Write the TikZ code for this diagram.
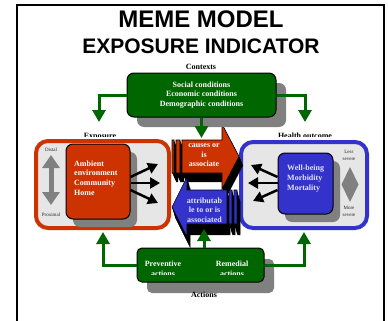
\documentclass[tikz,border=0pt]{standalone}
\usepackage{fontspec}
\setmainfont{Liberation Serif}
\newfontfamily\titlefont{Liberation Sans}
\usetikzlibrary{arrows.meta,shadows}

\definecolor{memered}{HTML}{CC3300}
\definecolor{memeblue}{HTML}{3333CC}
\definecolor{memegreen}{HTML}{006600}
\definecolor{shadowgray}{HTML}{808080}
\definecolor{panelgray}{HTML}{E6E6E6}
\definecolor{paleblue}{HTML}{E4E4FF}

\tikzset{
  lbl/.style={font=\fontsize{8}{9.7}\selectfont\bfseries, inner sep=0pt},
  tinylbl/.style={font=\fontsize{5}{7}\selectfont, inner sep=0pt, text=black!85},
  panel/.style={rounded corners=12pt, fill=panelgray, line width=4pt},
  card/.style={rounded corners=7pt, draw=black, line width=1pt, inner sep=0pt},
  cardtxt/.style={lbl, text=white, align=left, anchor=north west},
  flow/.style={draw=memegreen, line width=3pt, -{Triangle[length=12pt,width=13pt]}},
  push/.style={draw=black, line width=2.5pt, -{Triangle[length=10pt,width=11pt]}},
  gshadow/.style 2 args={drop shadow={shadow xshift=#1, shadow yshift=-#2,
      opacity=1, fill=shadowgray}},
  % striped block arrow pointing right
  pics/causes/.style={code={
    \path[pic actions] (182,140) -- (222,140) -- (222,124) -- (239,156.5)
      -- (222,189) -- (222,173) -- (182,173) -- cycle
      (176,140) rectangle (180,173) (172,140) rectangle (174,173);}},
  % striped block arrow pointing left
  pics/attributes/.style={code={
    \path[pic actions] (227,190) -- (187,190) -- (187,177) -- (172,207)
      -- (187,237) -- (187,224) -- (227,224) -- cycle
      (229,190) rectangle (232,224) (234,190) rectangle (237,224);}},
}

\begin{document}
\begin{tikzpicture}[x=1pt,y=-1pt]
\useasboundingbox (0,0) rectangle (388,321);

% frame and headings
\draw[line width=1.5pt] (17,330) -- (17,5) -- (384,5) -- (384,330);
\node[anchor=base, inner sep=0pt, font=\titlefont\bfseries\fontsize{24}{24}\selectfont]
  (title) at (201,28) {MEME MODEL};
\node[anchor=base, inner sep=0pt, font=\titlefont\bfseries\fontsize{21}{21}\selectfont]
  (subtitle) at (201,53) {EXPOSURE INDICATOR};
\node[lbl, anchor=base] (ctxlbl) at (201,70) {Contexts};

% panel captions, partly hidden behind the panels
\begin{scope}
  \clip (40,120) rectangle (360,136);
  \node[lbl, anchor=base] (expolbl) at (100,138) {Exposure};
  \node[lbl, anchor=base] (heallbl) at (305,138) {Health outcome};
\end{scope}

% exposure and health outcome panels
\node[panel, draw=memered, minimum width=133pt, minimum height=87pt] (expo) at (102.5,184.5) {};
\node[panel, draw=memeblue, minimum width=126pt, minimum height=86pt] (heal) at (304,185) {};

% distal / proximal scale
\node[tinylbl, anchor=base] (distal) at (51,151) {Distal};
\node[tinylbl, anchor=base] (proximal) at (51,216) {Proximal};
\coordinate (dtop) at (51,155);
\coordinate (dbot) at (51,205);
\draw[draw=shadowgray, line width=5pt,
  {Triangle[length=13pt,width=17pt]}-{Triangle[length=13pt,width=17pt]}] (dtop) -- (dbot);

% severity scale
\node[tinylbl, align=center, anchor=north] (less) at (349,150.5) {Less\\severe};
\node[tinylbl, align=center, anchor=north] (more) at (349,206.5) {More\\severe};
\fill[shadowgray] (350,167) -- (358.5,184.5) -- (350,202) -- (341.5,184.5) -- cycle;

% exposure card
\node[card, fill=memered, minimum width=64pt, minimum height=75pt, gshadow={7pt}{8pt}]
  (amb) at (98,181.5) {};
\node[cardtxt] (ambtxt) at (74,160.5) {Ambient\\environment\\Community\\Home};

% outcome card
\node[card, fill=memeblue, minimum width=55pt, minimum height=61pt, gshadow={7pt}{8pt}]
  (well) at (305.5,183.5) {};
\node[cardtxt, text=paleblue] (welltxt) at (287,165) {Well-being\\Morbidity\\Mortality};

% fan-out arrows
\coordinate (o1) at (158,164);
\coordinate (o2) at (160,183);
\coordinate (o3) at (158,203);
\draw[push] ([yshift=4.5pt]amb.east) -- (o1);
\draw[push] ([yshift=-1.5pt]amb.east) -- (o2);
\draw[push] ([yshift=-8.5pt]amb.east) -- (o3);
\coordinate (i1) at (251,165);
\coordinate (i2) at (248,183);
\coordinate (i3) at (253,201);
\draw[push] ([yshift=6.5pt]well.west) -- (i1);
\draw[push] ([yshift=0.5pt]well.west) -- (i2);
\draw[push] ([yshift=-6.5pt]well.west) -- (i3);

% central striped arrows with solid black extrusion
\foreach \k in {1,...,10} \pic[fill=black] at (0.4*\k,0.9*\k) {causes};
\pic[fill=memered, draw=black, line width=0.6pt] at (0,0) {causes};
\node[lbl, text=white, align=center, anchor=north] (causetxt) at (204,143.5)
  {causes or\\is\\associate};
\foreach \k in {1,...,11} \pic[fill=black] at (0.3*\k,\k) {attributes};
\pic[fill=memeblue, draw=black, line width=0.6pt] at (0,0) {attributes};
\node[lbl, text=paleblue, align=center, anchor=north] (attrtxt) at (204.5,197.5)
  {attributab\\le to or is\\associated};

% contexts box
\node[card, fill=memegreen, minimum width=149pt, minimum height=44pt, gshadow={10pt}{10pt},
  lbl, text=white, align=center] (ctx) at (201.5,95)
  {Social conditions\\Economic conditions\\Demographic conditions};

% actions box
\node[card, rounded corners=5pt, fill=memegreen, minimum width=127pt, minimum height=34pt,
  gshadow={10pt}{11pt}] (act) at (200.5,265) {};
\begin{scope}
  \clip (137,245) rectangle (264,274.6);
  \node[lbl, text=white, align=center, anchor=north] (prev) at (163,261.2) {Preventive\\actions};
  \node[lbl, text=white, align=center, anchor=north] (reme) at (232,261.2) {Remedial\\actions};
\end{scope}
\node[lbl, anchor=base] (actlbl) at (204,297) {Actions};

% green influence arrows
\coordinate (ctxl) at (99,122);
\coordinate (ctxr) at (305,122);
\coordinate (ctxm) at (201.5,138);
\draw[flow] (ctx.west) -| (ctxl);
\draw[flow] (ctx.east) -| (ctxr);
\draw[flow] (ctx.south) -- (ctxm);
\coordinate (actl) at (103,232);
\coordinate (actr) at (304,232);
\coordinate (actm) at (204,229);
\draw[flow] (act.west) -| (actl);
\draw[flow] (act.east) -| (actr);
\draw[flow] (act.north -| actm) -- (actm);
\end{tikzpicture}
\end{document}
